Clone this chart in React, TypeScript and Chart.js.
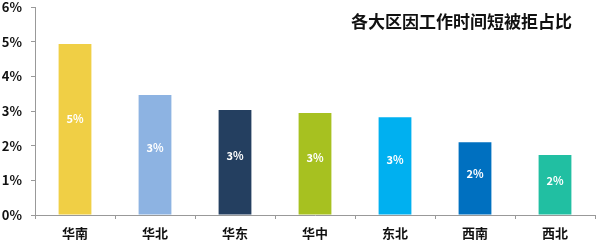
import React, { useEffect, useRef } from "react";
import { Chart, registerables } from "chart.js";

Chart.register(...registerables);

const categories = ["华南", "华北", "华东", "华中", "东北", "西南", "西北"];
const values = [4.93, 3.46, 3.03, 2.94, 2.82, 2.1, 1.73];
const barColors = ["#F0CF45", "#8DB3E2", "#243F60", "#A7C120", "#00B0F0", "#0070C0", "#21BFA2"];
const yTicks = [0, 1, 2, 3, 4, 5, 6];
const title = "各大区因工作时间短被拒占比";

const FONT = '"Noto Sans CJK SC", "Liberation Sans", sans-serif';

const overlayPlugin = {
  id: "overlay",
  afterDatasetsDraw(chart: any) {
    const ctx = chart.ctx;
    const meta = chart.getDatasetMeta(0);
    ctx.save();
    ctx.fillStyle = "#ffffff";
    ctx.font = `bold 11px ${FONT}`;
    ctx.textAlign = "center";
    ctx.textBaseline = "middle";
    meta.data.forEach((bar: any, i: number) => {
      const top = bar.y;
      const bottom = bar.base;
      const y = top + (bottom - top) * 0.44;
      ctx.fillText(Math.round(values[i]) + "%", bar.x, y);
    });
    ctx.fillStyle = "#111111";
    ctx.font = `bold 17px ${FONT}`;
    ctx.textAlign = "right";
    ctx.fillText(title, chart.chartArea.right - 23, chart.chartArea.top + 15);
    ctx.restore();
  },
};

export default function App() {
  const ref = useRef<HTMLCanvasElement>(null);
  useEffect(() => {
    document.body.style.margin = "0";
    const chart = new Chart(ref.current!, {
      type: "bar",
      data: {
        labels: categories,
        datasets: [
          {
            data: values,
            backgroundColor: barColors,
            categoryPercentage: 1,
            barPercentage: 0.41,
          },
        ],
      },
      options: {
        animation: false,
        responsive: false,
        maintainAspectRatio: false,
        layout: { padding: { top: 7, right: 5, left: 0, bottom: 0 } },
        plugins: { legend: { display: false }, tooltip: { enabled: false }, title: { display: false } },
        scales: {
          x: {
            grid: { display: true, drawOnChartArea: false, offset: true, tickLength: 4, color: "#999999" },
            border: { display: true, color: "#999999" },
            ticks: { color: "#111111", font: { family: FONT, size: 13, weight: "bold" }, padding: 6 },
            afterFit: (s: any) => {
              s.height = 34;
              s.paddingLeft = 0;
              s.paddingRight = 0;
            },
          },
          y: {
            min: 0,
            max: 6,
            afterBuildTicks: (s: any) => {
              s.ticks = yTicks.map((v) => ({ value: v }));
            },
            grid: { display: true, drawOnChartArea: false, tickLength: 4, color: "#999999" },
            border: { display: true, color: "#999999" },
            ticks: {
              color: "#111111",
              font: { family: FONT, size: 13, weight: "bold" },
              padding: 9,
              callback: (v: any) => v + "%",
            },
            afterFit: (s: any) => {
              s.width = 35;
              s.paddingTop = 0;
              s.paddingBottom = 0;
            },
          },
        },
      },
      plugins: [overlayPlugin],
    });
    return () => chart.destroy();
  }, []);
  return (
    <div style={{ position: "fixed", left: 0, top: 0, width: 600, height: 249, background: "#fff" }}>
      <canvas ref={ref} width={600} height={249} style={{ width: 600, height: 249 }} />
    </div>
  );
}
